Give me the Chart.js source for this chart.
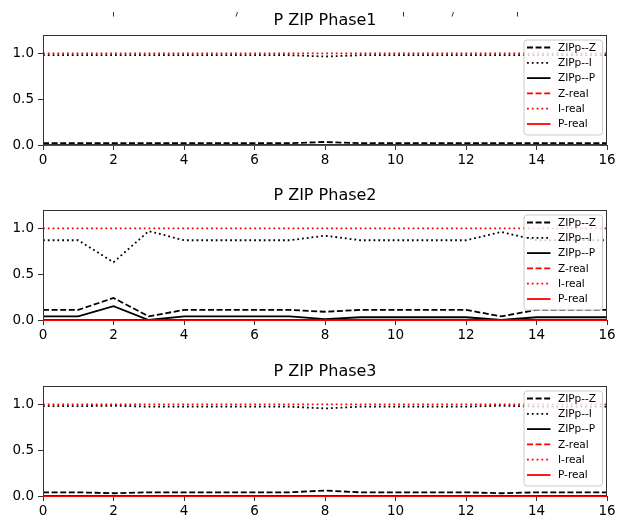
<!DOCTYPE html>
<html>
<head>
<meta charset="utf-8">
<script src="https://cdn.jsdelivr.net/npm/chart.js@4/dist/chart.umd.min.js"></script>
<style>
  html, body { margin: 0; padding: 0; background: #fff; overflow: hidden; }
  #wrap { position: relative; width: 621px; height: 517px; overflow: hidden; }
  .panel { position: absolute; left: 0; width: 621px; }
</style>
</head>
<body>
<div id="wrap">
  <div class="panel" style="top:-6px;height:177px"><canvas id="c1"></canvas></div>
  <div class="panel" style="top:169px;height:177px"><canvas id="c2"></canvas></div>
  <div class="panel" style="top:345px;height:177px"><canvas id="c3"></canvas></div>
</div>
<script>
// time steps along the x axis
const steps = [0, 1, 2, 3, 4, 5, 6, 7, 8, 9, 10, 11, 12, 13, 14, 15, 16];
const xTicks = [0, 2, 4, 6, 8, 10, 12, 14, 16];
const yTicks = [0, 0.5, 1.0];
const yTickLabels = ['0.0', '0.5', '1.0'];

// Phase 1 estimated ZIP coefficients
const p1Z = [0.02, 0.02, 0.02, 0.02, 0.02, 0.02, 0.02, 0.02, 0.033, 0.02, 0.02, 0.02, 0.02, 0.02, 0.02, 0.02, 0.02];
const p1I = [0.98, 0.98, 0.98, 0.98, 0.98, 0.98, 0.98, 0.98, 0.965, 0.98, 0.98, 0.98, 0.98, 0.98, 0.98, 0.98, 0.98];
const p1P = [0.0, 0.0, 0.0, 0.0, 0.0, 0.0, 0.0, 0.0, 0.002, 0.0, 0.0, 0.0, 0.0, 0.0, 0.0, 0.0, 0.0];

// Phase 2 estimated ZIP coefficients
const p2Z = [0.11, 0.11, 0.24, 0.04, 0.11, 0.11, 0.11, 0.11, 0.09, 0.11, 0.11, 0.11, 0.11, 0.04, 0.11, 0.11, 0.11];
const p2I = [0.87, 0.87, 0.63, 0.97, 0.87, 0.87, 0.87, 0.87, 0.92, 0.87, 0.87, 0.87, 0.87, 0.96, 0.87, 0.87, 0.87];
const p2P = [0.04, 0.04, 0.15, 0.0, 0.04, 0.04, 0.04, 0.04, 0.01, 0.03, 0.03, 0.03, 0.03, 0.0, 0.03, 0.03, 0.03];

// Phase 3 estimated ZIP coefficients
const p3Z = [0.04, 0.04, 0.03, 0.04, 0.04, 0.04, 0.04, 0.04, 0.06, 0.04, 0.04, 0.04, 0.04, 0.03, 0.04, 0.04, 0.04];
const p3I = [0.98, 0.98, 0.985, 0.975, 0.975, 0.975, 0.975, 0.975, 0.955, 0.975, 0.975, 0.975, 0.975, 0.985, 0.975, 0.975, 0.975];
const p3P = [0.0, 0.0, 0.0, 0.0, 0.0, 0.0, 0.0, 0.0, 0.0, 0.0, 0.0, 0.0, 0.0, 0.0, 0.0, 0.0, 0.0];

// true ZIP coefficients (same for every phase)
const zReal = [0, 0, 0, 0, 0, 0, 0, 0, 0, 0, 0, 0, 0, 0, 0, 0, 0];
const iReal = [1, 1, 1, 1, 1, 1, 1, 1, 1, 1, 1, 1, 1, 1, 1, 1, 1];
const pReal = [0, 0, 0, 0, 0, 0, 0, 0, 0, 0, 0, 0, 0, 0, 0, 0, 0];

const seriesLabels = ['ZIPp--Z', 'ZIPp--I', 'ZIPp--P', 'Z-real', 'I-real', 'P-real'];
const titles = ['P ZIP Phase1', 'P ZIP Phase2', 'P ZIP Phase3'];

const FONT = '"DejaVu Sans", sans-serif';
const LINE_W = 1.8;
const DASHED = [6, 2.6];
const DOTTED = [1.8, 3];
const styles = [
  { color: '#000000', dash: DASHED, order: 1 },
  { color: '#000000', dash: DOTTED, order: 1 },
  { color: '#000000', dash: [], order: 1 },
  { color: '#ff0000', dash: DASHED, order: 0 },
  { color: '#ff0000', dash: DOTTED, order: 0 },
  { color: '#ff0000', dash: [], order: 0 }
];

function toPoints(values) {
  return steps.map((x, i) => ({ x: x, y: values[i] }));
}

// axes title centred over the plotting area
const axesTitlePlugin = {
  id: 'axesTitle',
  afterDraw(chart, args, opts) {
    const a = chart.chartArea;
    const ctx = chart.ctx;
    ctx.save();
    ctx.font = '16px ' + FONT;
    ctx.fillStyle = '#000000';
    ctx.textAlign = 'center';
    ctx.textBaseline = 'middle';
    ctx.fillText(opts.text, (a.left + a.right) / 2, a.top - 14);
    ctx.restore();
  }
};

// axes frame drawn on top of the lines, like matplotlib spines
const framePlugin = {
  id: 'frame',
  afterDatasetsDraw(chart) {
    const a = chart.chartArea;
    const ctx = chart.ctx;
    ctx.save();
    ctx.strokeStyle = '#333333';
    ctx.lineWidth = 1;
    const l = Math.round(a.left) + 0.5, r = Math.round(a.right) - 0.5;
    const t = Math.round(a.top) + 0.5, b = Math.round(a.bottom) - 0.5;
    ctx.strokeRect(l, t, r - l, b - t);
    ctx.restore();
  }
};

// legend box in the upper right corner of the axes
const boxLegendPlugin = {
  id: 'boxLegend',
  afterDraw(chart) {
    const a = chart.chartArea;
    const ctx = chart.ctx;
    const w = 78.5, h = 95;
    const x0 = a.right - 5 - w, y0 = a.top + 4.5;
    ctx.save();
    ctx.beginPath();
    if (ctx.roundRect) ctx.roundRect(x0 + 0.5, y0 + 0.5, w, h, 3); else ctx.rect(x0 + 0.5, y0 + 0.5, w, h);
    ctx.fillStyle = 'rgba(255,255,255,0.8)';
    ctx.fill();
    ctx.strokeStyle = '#cccccc';
    ctx.lineWidth = 1;
    ctx.stroke();
    ctx.font = '10.5px ' + FONT;
    ctx.textBaseline = 'middle';
    ctx.textAlign = 'left';
    chart.data.datasets.forEach((ds, i) => {
      const y = y0 + 8 + i * 15.3;
      ctx.beginPath();
      ctx.setLineDash(ds.borderDash || []);
      ctx.strokeStyle = ds.borderColor;
      ctx.lineWidth = LINE_W;
      ctx.moveTo(x0 + 3.5, y);
      ctx.lineTo(x0 + 27, y);
      ctx.stroke();
      ctx.setLineDash([]);
      ctx.fillStyle = '#000000';
      ctx.fillText(ds.label, x0 + 34.5, y + 0.5);
    });
    ctx.restore();
  }
};

// clipped remnants of a heading above the first panel
const headingMarksPlugin = {
  id: 'headingMarks',
  afterDraw(chart) {
    if (chart.canvas.id !== 'c1') return;
    const ctx = chart.ctx;
    ctx.save();
    ctx.strokeStyle = '#333333';
    ctx.lineWidth = 1;
    const marks = [[113, 0], [236, 1], [403, 0], [452, 1], [517, 0]];
    marks.forEach(([x, slant]) => {
      ctx.beginPath();
      ctx.moveTo(x + 0.5 + slant, 18);
      ctx.lineTo(x + 0.5 - slant * 0.5, 22.5);
      ctx.stroke();
    });
    ctx.restore();
  }
};

function makeChart(id, title, zs, is, ps) {
  const values = [zs, is, ps, zReal, iReal, pReal];
  const datasets = values.map((v, i) => ({
    label: seriesLabels[i],
    data: toPoints(v),
    borderColor: styles[i].color,
    backgroundColor: styles[i].color,
    borderDash: styles[i].dash,
    borderCapStyle: 'butt',
    borderWidth: LINE_W,
    pointRadius: 0,
    tension: 0,
    fill: false,
    clip: 4,
    order: styles[i].order
  }));
  return new Chart(document.getElementById(id), {
    type: 'line',
    data: { datasets: datasets },
    plugins: [axesTitlePlugin, framePlugin, boxLegendPlugin, headingMarksPlugin],
    options: {
      responsive: true,
      maintainAspectRatio: false,
      animation: false,
      events: [],
      layout: { padding: { top: 41, right: 14, bottom: 0, left: 0 } },
      plugins: {
        legend: { display: false },
        tooltip: { enabled: false },
        title: { display: false },
        axesTitle: { text: title }
      },
      scales: {
        x: {
          type: 'linear',
          min: 0,
          max: 16,
          afterFit(scale) { scale.height = 26; },
          afterBuildTicks(scale) { scale.ticks = xTicks.map(v => ({ value: v })); },
          border: { display: false },
          grid: { drawOnChartArea: false, drawTicks: true, tickLength: 5, tickColor: '#333333', color: '#333333' },
          ticks: {
            color: '#000000',
            padding: 2,
            maxRotation: 0,
            autoSkip: false,
            font: { family: FONT, size: 13.5 },
            callback: v => String(v)
          }
        },
        y: {
          type: 'linear',
          min: 0,
          max: 1.2,
          afterFit(scale) { scale.width = 43; },
          afterBuildTicks(scale) { scale.ticks = yTicks.map(v => ({ value: v })); },
          border: { display: false },
          grid: { drawOnChartArea: false, drawTicks: true, tickLength: 5, tickColor: '#333333', color: '#333333' },
          ticks: {
            color: '#000000',
            padding: 4,
            autoSkip: false,
            font: { family: FONT, size: 13.5 },
            callback: v => yTickLabels[yTicks.indexOf(v)]
          }
        }
      }
    }
  });
}

makeChart('c1', titles[0], p1Z, p1I, p1P);
makeChart('c2', titles[1], p2Z, p2I, p2P);
makeChart('c3', titles[2], p3Z, p3I, p3P);
</script>
</body>
</html>
